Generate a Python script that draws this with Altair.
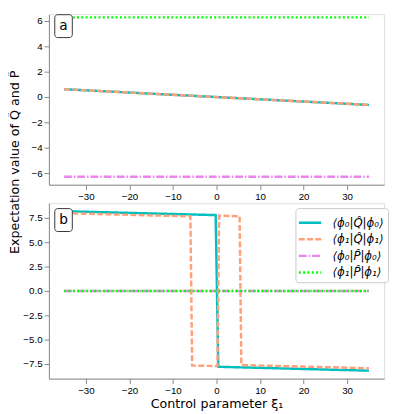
import altair as alt
import pandas as pd

# ---- series definitions ----
series_names = ["⟨ϕ₀|Q̂|ϕ₀⟩", "⟨ϕ₁|Q̂|ϕ₁⟩", "⟨ϕ₀|P̂|ϕ₀⟩", "⟨ϕ₁|P̂|ϕ₁⟩"]
series_colors = ["#00BFBF", "#FFA07A", "#EE82EE", "#00FF00"]
series_dashes = [[1, 0], [6, 2.5], [8, 2, 1.5, 2], [2, 2.4]]

# ---- panel a ----
a_q0_xi = [-35, 35]
a_q0 = [0.62, -0.62]
a_q1_xi = [-35, 35]
a_q1 = [0.62, -0.62]
a_p0_xi = [-35, 35]
a_p0 = [-6.28, -6.28]
a_p1_xi = [-35, 35]
a_p1 = [6.28, 6.28]

# ---- panel b ----
b_q0_xi = [-35, -0.2, 0.4, 35]
b_q0 = [8.2, 7.8, -7.8, -8.2]
b_q1_xi = [-35, -6.0, -5.6, 0.2, 0.6, 5.3, 5.7, 35]
b_q1 = [8.0, 7.67, -7.67, -7.74, 7.74, 7.68, -7.62, -7.95]
b_p0_xi = [-35, 35]
b_p0 = [0.0, 0.0]
b_p1_xi = [-35, 35]
b_p1 = [0.0, 0.0]

x_ticks = [-30, -20, -10, 0, 10, 20, 30]
a_y_ticks = [-6, -4, -2, 0, 2, 4, 6]
b_y_ticks = [-7.5, -5.0, -2.5, 0.0, 2.5, 5.0, 7.5]

y_title = "Expectation value of Q̂ and P̂"
x_title = "Control parameter ξ₁"


def build(xs_list, ys_list):
    rows = []
    for name, xs, ys in zip(series_names, xs_list, ys_list):
        for i, (x, y) in enumerate(zip(xs, ys)):
            rows.append({"series": name, "xi": x, "val": y, "idx": i})
    return pd.DataFrame(rows)


df_a = build([a_q0_xi, a_q1_xi, a_p0_xi, a_p1_xi], [a_q0, a_q1, a_p0, a_p1])
df_b = build([b_q0_xi, b_q1_xi, b_p0_xi, b_p1_xi], [b_q0, b_q1, b_p0, b_p1])

FONT = "DejaVu Sans"
W = 344

x_scale = alt.Scale(domain=[-38.5, 38.5], nice=False, zero=False)


def panel(df, ydomain, yticks, yfmt, legend, label, show_titles, height, box_y):
    if show_titles:
        xaxis = alt.Axis(values=x_ticks, title=x_title, format="d", grid=False,
                         titleFontSize=13, titleFont=FONT, titleFontWeight="normal",
                         titlePadding=3, titleColor="black")
    else:
        xaxis = alt.Axis(values=x_ticks, title=None, format="d", grid=False)
    yaxis = alt.Axis(values=yticks, format=yfmt, title=None, grid=False)
    color = alt.Color("series:N", scale=alt.Scale(domain=series_names, range=series_colors),
                      legend=legend)
    dash = alt.StrokeDash("series:N", scale=alt.Scale(domain=series_names, range=series_dashes),
                          legend=legend)
    lines = alt.Chart(df).mark_line(strokeWidth=2.5, clip=True).encode(
        x=alt.X("xi:Q", scale=x_scale, axis=xaxis),
        y=alt.Y("val:Q", scale=alt.Scale(domain=ydomain, nice=False, zero=False), axis=yaxis),
        color=color,
        strokeDash=dash,
        order="idx:Q",
        detail="series:N",
    )
    lab = pd.DataFrame({"t": [label]})
    box = alt.Chart(lab).mark_rect(fill="white", stroke="#333", strokeWidth=1, cornerRadius=3).encode(
        x=alt.value(6), x2=alt.value(24), y=alt.value(box_y), y2=alt.value(box_y + 23.5)
    )
    txt = alt.Chart(lab).mark_text(font=FONT, fontSize=14, align="center", baseline="middle",
                                   color="black").encode(
        x=alt.value(15), y=alt.value(box_y + 11.5), text="t:N"
    )
    layers = [lines, box, txt]
    if show_titles:
        yt = alt.Chart(pd.DataFrame({"t": [y_title]})).mark_text(
            font=FONT, fontSize=13, angle=270, align="center", baseline="middle", color="black"
        ).encode(x=alt.value(-35), y=alt.value(-42), text="t:N")
        layers.append(yt)
    return alt.layer(*layers).properties(width=W, height=height)


legend_b = alt.Legend(
    title=None, orient="none", legendX=253, legendY=5,
    fillColor="white", strokeColor="#cccccc", cornerRadius=3, padding=4,
    symbolType="M-1.21,0H1.21", symbolSize=361, symbolStrokeWidth=2.5,
    labelFont=FONT, labelFontSize=12, labelFontStyle="italic", labelOffset=12,
    labelColor="black", rowPadding=0,
)

top = panel(df_a, [-6.91, 6.53], a_y_ticks, "d", None, "a", False, 175, 0.5)
bottom = panel(df_b, [-9.02, 9.02], b_y_ticks, ".1f", legend_b, "b", True, 180, 5.5)

chart = alt.vconcat(top, bottom, spacing=19, bounds="flush").resolve_legend(
    color="independent", strokeDash="independent"
).resolve_scale(color="independent", strokeDash="independent").properties(
    padding={"left": 0, "top": 0, "right": 0, "bottom": 0}
).configure_view(stroke="#444", strokeWidth=1).configure_axis(
    grid=False, domain=False, tickColor="#333", tickSize=3.5,
    labelFont=FONT, labelFontSize=11, labelColor="black", labelPadding=2,
).configure(background="white")

chart.save("out.html", embed_options={"renderer": "svg", "actions": False})
